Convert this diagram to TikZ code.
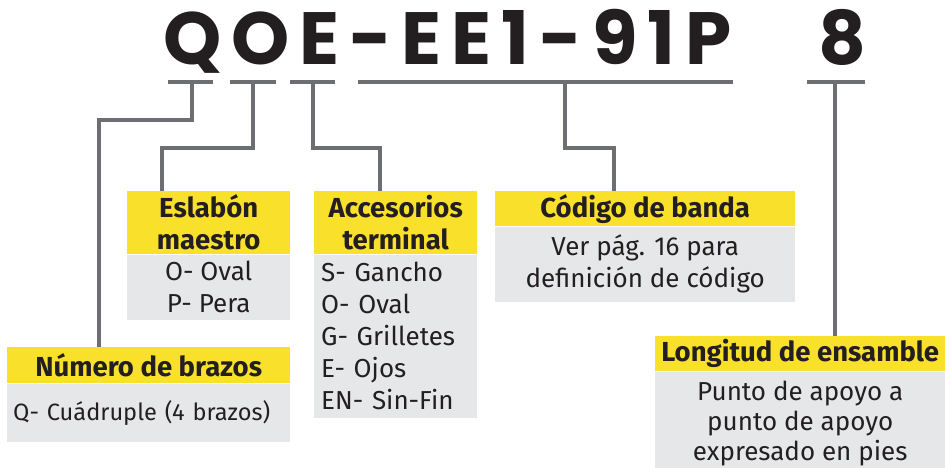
\documentclass[tikz,border=0pt]{standalone}
\usepackage{fontspec}
\setmainfont{Fira Sans}
\newfontfamily\codefont[LetterSpace=13.3]{Poppins}
\usetikzlibrary{positioning}

\definecolor{signyellow}{HTML}{F9E02B}
\definecolor{boxgray}{HTML}{E6E7E8}
\definecolor{linegray}{HTML}{6D6E71}
\definecolor{inkblack}{HTML}{231F20}

\begin{document}
\begin{tikzpicture}[
  x=1pt, y=-1pt,
  code/.style={inner sep=0pt, anchor=base west, text=inkblack,
               font=\codefont\bfseries\fontsize{74}{80}\selectfont},
  head/.style={fill=signyellow, text=inkblack, inner sep=0pt,
               anchor=north west, align=center,
               font=\bfseries\fontsize{27.5}{32}\selectfont},
  body/.style={fill=boxgray, text=inkblack, inner sep=0pt,
               align=center, font=\fontsize{26}{32}\selectfont},
  bar/.style={draw=linegray, line width=4pt},
  lead/.style={draw=linegray, line width=4pt}
]
\useasboundingbox (0,0) rectangle (945,468);

% part number
\node[code] (pn)  at (163,65) {QOE-EE1-91P};
\node[code] (len) at (818,65) {8};

% underline bars
\draw[bar] (168,82) -- (213,82) coordinate[pos=0.53] (qtop);
\draw[bar] (230,82) -- (276,82) coordinate[midway] (otop);
\draw[bar] (290,82) -- (335,82) coordinate[midway] (etop);
\draw[bar] (358,82) -- (733,82) coordinate[pos=0.553] (btop);
\draw[bar] (807,82) -- (865,82) coordinate[pos=0.48] (ltop);

% boxes
\node[head, minimum width=283pt, minimum height=36pt] (numh) at (7,347) {Número de brazos};
\node[body, below=0pt of numh, minimum width=283pt, minimum height=58pt,
      align=left, text width=271pt, font=\fontsize{23.6}{32}\selectfont] (numb) {\mbox{Q- Cuádruple (4 brazos)}};

\node[head, minimum width=163pt, minimum height=63pt] (eslh) at (127,191) {Eslabón\\maestro};
\node[body, below=0pt of eslh, minimum width=163pt, minimum height=65pt] (eslb) {O- Oval\\P- Pera};

\node[head, minimum width=163pt, minimum height=63pt] (acch) at (314,191) {Accesorios\\terminal};
\node[body, below=0pt of acch, minimum width=163pt, minimum height=163pt,
      align=left, text width=149pt] (accb) {S- Gancho\\O- Oval\\G- Grilletes\\E- Ojos\\EN- Sin-Fin};

\node[head, minimum width=300pt, minimum height=35pt] (codh) at (495,191) {Código de banda};
\node[body, below=0pt of codh, minimum width=300pt, minimum height=75pt] (codb) {Ver pág. 16 para\\definición de código};

\node[head, minimum width=290pt, minimum height=35pt] (lonh) at (655,336) {Longitud de ensamble};
\node[body, below=0pt of lonh, minimum width=290pt, minimum height=104pt,
      anchor=north, font=\fontsize{26}{30}\selectfont] (lonb) {Punto de apoyo a\\punto de apoyo\\expresado en pies};

% leaders
\draw[lead] (qtop) -- ++(0,38) -| ([xshift=92pt]numh.north west);
\draw[lead] (otop) -- ++(0,66) -| ([xshift=35pt]eslh.north west);
\draw[lead] (etop) -- ++(0,66) -| ([xshift=66pt]acch.north west);
\draw[lead] (btop) -- ++(0,66) -| ([xshift=119pt]codh.north west);
\draw[lead] (ltop) -- (ltop |- lonh.north);
\end{tikzpicture}
\end{document}
